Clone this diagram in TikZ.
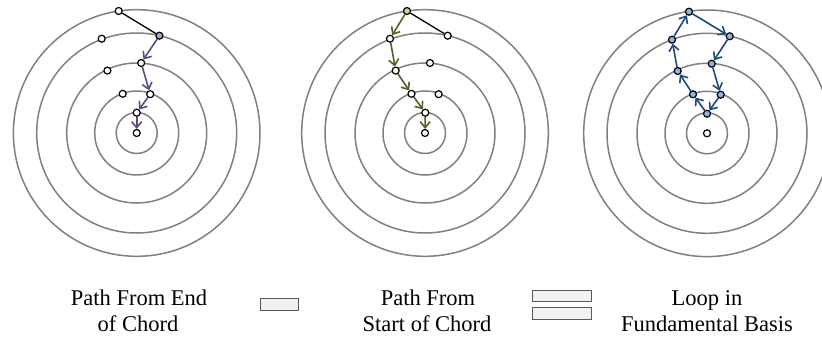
\documentclass[tikz,border=0pt]{standalone}
\usepackage{fontspec}
\setmainfont{Liberation Serif}
\usetikzlibrary{arrows.meta}
\definecolor{ring}{RGB}{128,128,128}
\definecolor{purp}{RGB}{96,74,128}
\definecolor{purpfill}{RGB}{179,162,199}
\definecolor{grn}{RGB}{79,98,40}
\definecolor{grnfill}{RGB}{195,214,155}
\definecolor{blu}{RGB}{31,73,125}
\definecolor{blufill}{RGB}{142,180,227}
\definecolor{boxfill}{RGB}{242,242,242}
\definecolor{boxline}{RGB}{89,89,89}
\tikzset{
  ringline/.style={draw=ring, line width=1.5pt},
  pt/.style={circle, draw=black, line width=1.2pt, inner sep=0pt, minimum size=7pt, fill=white},
  chord/.style={draw=black, line width=1.3pt},
  parc/.style={draw=#1, line width=1.6pt, -{Straight Barb[length=6pt,width=10pt]}},
  legbox/.style={draw=boxline, fill=boxfill, line width=1pt},
  lbl/.style={font=\fontsize{22.5}{26}\selectfont, inner sep=0pt, anchor=base}
}
\newcommand\myrings{\foreach \r in {20.5,42,70,100,123.3} \draw[ringline] (0,0) circle[radius=\r];}
\begin{document}
\begin{tikzpicture}[x=1pt,y=-1pt]
\useasboundingbox (0,0) rectangle (822,337);
\clip (0,0) rectangle (822,337);
% ---------- diagram 1
\begin{scope}[shift={(136.7,133)}]
\myrings
\node[pt] (a1) at (-18,-122) {};
\node[pt, fill=purpfill] (b1) at (22.7,-97.3) {};
\node[pt] (c1) at (-35,-94.3) {};
\node[pt] (d1) at (4.5,-70) {};
\node[pt] (e1) at (-29.3,-62.4) {};
\node[pt] (f1) at (13.5,-38.8) {};
\node[pt] (g1) at (-14,-39.2) {};
\node[pt] (h1) at (0,-20.3) {};
\node[pt] (o1) at (0,0) {};
\end{scope}
\draw[chord] (a1) -- (b1);
\draw[parc=purp] (b1) -- (d1);
\draw[parc=purp] (d1) -- (f1);
\draw[parc=purp] (f1) -- (h1);
\draw[parc=purp] (h1) -- (o1);
% ---------- diagram 2
\begin{scope}[shift={(425,133)}]
\myrings
\node[pt, fill=grnfill] (a2) at (-18,-122) {};
\node[pt] (b2) at (22.7,-97.3) {};
\node[pt] (c2) at (-35,-94.3) {};
\node[pt] (d2) at (5,-70) {};
\node[pt] (e2) at (-29.3,-62.4) {};
\node[pt] (f2) at (13.6,-38.8) {};
\node[pt] (g2) at (-13.5,-39.2) {};
\node[pt] (h2) at (0.3,-20.3) {};
\node[pt] (o2) at (0,0) {};
\end{scope}
\draw[chord] (a2) -- (b2);
\draw[parc=grn] (a2) -- (c2);
\draw[parc=grn] (c2) -- (e2);
\draw[parc=grn] (e2) -- (g2);
\draw[parc=grn] (g2) -- (h2);
\draw[parc=grn] (h2) -- (o2);
% ---------- diagram 3
\begin{scope}[shift={(707,133.3)}]
\myrings
\node[pt, fill=blufill] (a3) at (-18,-121.6) {};
\node[pt, fill=blufill] (b3) at (22.7,-97) {};
\node[pt, fill=blufill] (c3) at (-35,-93.6) {};
\node[pt, fill=blufill] (d3) at (4.7,-69.6) {};
\node[pt, fill=blufill] (e3) at (-29.3,-62.3) {};
\node[pt, fill=blufill] (f3) at (13.7,-38.6) {};
\node[pt, fill=blufill] (g3) at (-14,-39) {};
\node[pt, fill=blufill] (h3) at (0,-19.6) {};
\node[pt] (o3) at (0,0) {};
\end{scope}
\draw[parc=blu] (h3) -- (g3);
\draw[parc=blu] (g3) -- (e3);
\draw[parc=blu] (e3) -- (c3);
\draw[parc=blu] (c3) -- (a3);
\draw[parc=blu] (a3) -- (b3);
\draw[parc=blu] (b3) -- (d3);
\draw[parc=blu] (d3) -- (f3);
\draw[parc=blu] (f3) -- (h3);
% ---------- legend
\node[lbl] (t1a) at (139,305) {Path From End};
\node[lbl] (t1b) at (138,331) {of Chord};
\node[lbl] (t2a) at (428,305) {Path From};
\node[lbl] (t2b) at (427,331) {Start of Chord};
\node[lbl] (t3a) at (707,305) {Loop in};
\node[lbl] (t3b) at (707,331) {Fundamental Basis};
\draw[legbox] (260,298.3) rectangle (298.3,310.7);
\draw[legbox] (532.3,290) rectangle (591.7,301.7);
\draw[legbox] (532.3,307.3) rectangle (591.7,319);
\end{tikzpicture}
\end{document}
